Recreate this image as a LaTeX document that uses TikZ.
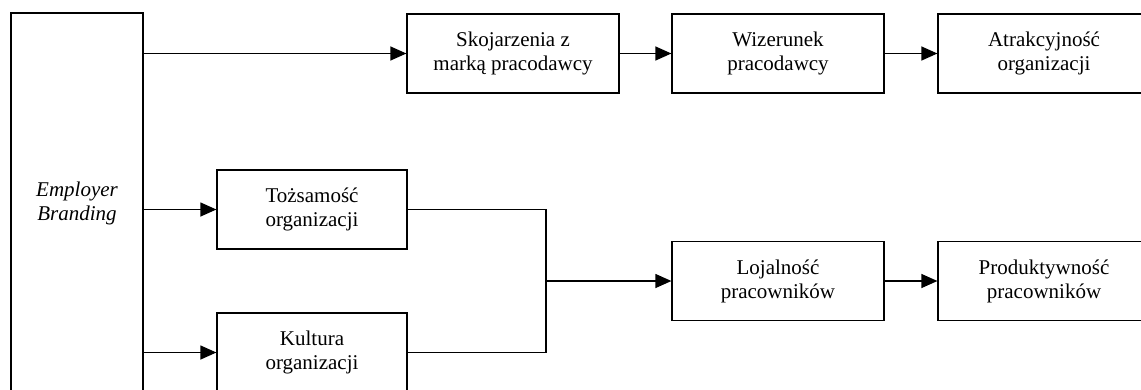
\documentclass[tikz,border=0pt]{standalone}
\usepackage{fontspec}
\setmainfont{Liberation Serif}
\usetikzlibrary{arrows.meta}
\begin{document}
\begin{tikzpicture}[x=1pt,y=-1pt,
  box/.style={draw=black,line width=1.2pt,rectangle,inner sep=0pt,align=center,
    font=\fontsize{21}{24}\selectfont,minimum width=212pt,minimum height=79pt},
  sbox/.style={box,minimum width=190pt},
  arr/.style={line width=1.2pt,-{Triangle[length=16pt,width=14pt]}},
  ln/.style={line width=1.2pt}]
\useasboundingbox (0,0) rectangle (1141,389);
\clip (0,0) rectangle (1141,389);
\node[box,minimum width=132pt,minimum height=380pt] (lb) at (77,203) {\itshape Employer\\\itshape Branding};
\node[box] (sk) at (513,53.5) {Skojarzenia z\\marką pracodawcy};
\node[box] (wi) at (778,53.5) {Wizerunek\\pracodawcy};
\node[box] (at) at (1044,53.5) {Atrakcyjność\\organizacji};
\node[sbox] (tz) at (312,209.5) {Tożsamość\\organizacji};
\node[sbox] (ku) at (312,352.5) {Kultura\\organizacji};
\node[box] (lo) at (778,281) {Lojalność\\pracowników};
\node[box] (pr) at (1044,281) {Produktywność\\pracowników};
\coordinate (mx) at (546,281);
\draw[arr] (sk.west -| lb.east) -- (sk.west);
\draw[arr] (sk) -- (wi);
\draw[arr] (wi) -- (at);
\draw[arr] (tz.west -| lb.east) -- (tz.west);
\draw[arr] (ku.west -| lb.east) -- (ku.west);
\draw[ln] (tz.east) -- (tz.east -| mx) -- (ku.east -| mx) -- (ku.east);
\draw[arr] (mx) -- (lo.west);
\draw[arr] (lo) -- (pr);
\end{tikzpicture}
\end{document}
